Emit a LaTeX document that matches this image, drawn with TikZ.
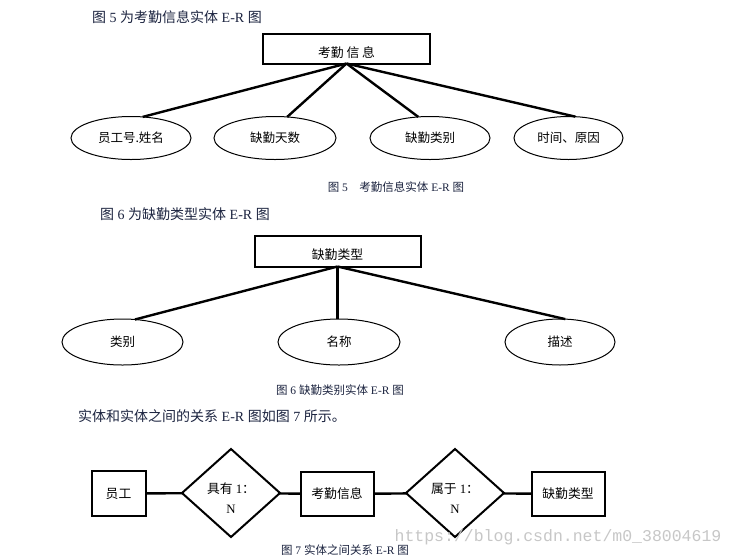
\documentclass[tikz,border=0pt]{standalone}
\usepackage{fontspec}
\setmainfont{Liberation Serif}
\newfontfamily\cjk{Noto Sans CJK SC}
\newfontfamily\wmfont{Liberation Mono}
\usetikzlibrary{shapes.geometric}
\newcommand{\zh}[1]{{\cjk #1}}
\definecolor{capcol}{RGB}{28,36,64}
\begin{document}
\begin{tikzpicture}[x=1pt,y=-1pt,
  titletext/.style={anchor=west, font=\fontsize{14}{16}\selectfont, text=capcol, inner sep=0pt},
  captext/.style={font=\fontsize{11.5}{13}\selectfont, text=capcol, inner sep=0pt},
  entbox/.style={draw, rectangle, line width=2pt, inner sep=0pt, outer sep=0pt, font=\fontsize{12.8}{14}\selectfont},
  topbox/.style={entbox, text height=19pt, text depth=1.5pt},
  attr/.style={draw, ellipse, line width=1pt, inner sep=0pt, outer sep=0pt, font=\fontsize{12.5}{14}\selectfont},
  rel/.style={draw, diamond, line width=2pt, inner sep=0pt, outer sep=0pt, minimum width=98pt, minimum height=88pt},
  rellabel/.style={align=center, font=\fontsize{12.8}{20}\selectfont, yshift=-5pt, inner sep=0pt},
  link/.style={line width=2.4pt},
  watermark/.style={font=\wmfont\fontsize{16.5}{18}\selectfont, text=black!22, inner sep=0pt}
]
\fill[white] (0,0) rectangle (734,558);
\useasboundingbox (0,0) rectangle (734,558);

% ---------- Figure 5 ----------
\node[titletext] (t1) at (92,17) {\zh{图} 5 \zh{为考勤信息实体} E-R \zh{图}};
\node[topbox, minimum width=167pt, minimum height=30pt] (kq) at (346.5,48.5) {\zh{考勤\ 信\ 息}};
\node[attr, minimum width=120pt, minimum height=43pt] (e1) at (131,138) {\zh{员工号.姓名}};
\node[attr, minimum width=122pt, minimum height=43pt] (e2) at (275,138) {\zh{缺勤天数}};
\node[attr, minimum width=120pt, minimum height=43pt] (e3) at (430,138) {\zh{缺勤类别}};
\node[attr, minimum width=109pt, minimum height=43pt] (e4) at (568.5,138) {\zh{时间、原因}};
\draw[link] (kq.south) -- (e1.61);
\draw[link] (kq.south) -- (e2.60);
\draw[link] (kq.south) -- (e3.119);
\draw[link] (kq.south) -- (e4.72);
\node[captext] (c5) at (396,187) {\zh{图} 5\hspace{1em}\zh{考勤信息实体} E-R \zh{图}};

% ---------- Figure 6 ----------
\node[titletext] (t2) at (100,214) {\zh{图} 6 \zh{为缺勤类型实体} E-R \zh{图}};
\node[topbox, minimum width=166pt, minimum height=31pt] (fb) at (337.5,251) {\zh{缺勤类型}};
\node[attr, minimum width=121pt, minimum height=46pt] (f1) at (122.5,342) {\zh{类别}};
\node[attr, minimum width=122pt, minimum height=46pt] (f2) at (339,342) {\zh{名称}};
\node[attr, minimum width=110pt, minimum height=46pt] (f3) at (560,342) {\zh{描述}};
\draw[link] (fb.south) -- (f1.61);
\draw[link] (fb.south) -- (fb.south |- f2.north);
\draw[link] (fb.south) -- (f3.77);
\node[captext] (c6) at (340,390) {\zh{图} 6 \zh{缺勤类别实体} E-R \zh{图}};

% ---------- Figure 7 ----------
\node[titletext] (t3) at (78,416) {\zh{实体和实体之间的关系} E-R \zh{图如图} 7 \zh{所示。}};
\node[entbox, minimum width=54pt, minimum height=45pt] (b1) at (118.5,493.5) {\zh{员工}};
\node[rel, label={[rellabel]center:{\zh{具有} 1\zh{：}\\N}}] (d1) at (231,493) {};
\node[entbox, minimum width=73pt, minimum height=44pt] (b2) at (337,494) {\zh{考勤信息}};
\node[rel, label={[rellabel]center:{\zh{属于} 1\zh{：}\\N}}] (d2) at (455,493) {};
\node[entbox, minimum width=73pt, minimum height=44pt] (b3) at (568,494) {\zh{缺勤类型}};
\draw[link] (b1) -- (d1);
\draw[link] (d1) -- (b2);
\draw[link] (b2) -- (d2);
\draw[link] (d2) -- (b3);
\node[captext] (c7) at (345,550) {\zh{图} 7 \zh{实体之间关系} E-R \zh{图}};
\node[watermark] (wm) at (558,537) {https://blog.csdn.net/m0\_38004619};
\end{tikzpicture}
\end{document}
